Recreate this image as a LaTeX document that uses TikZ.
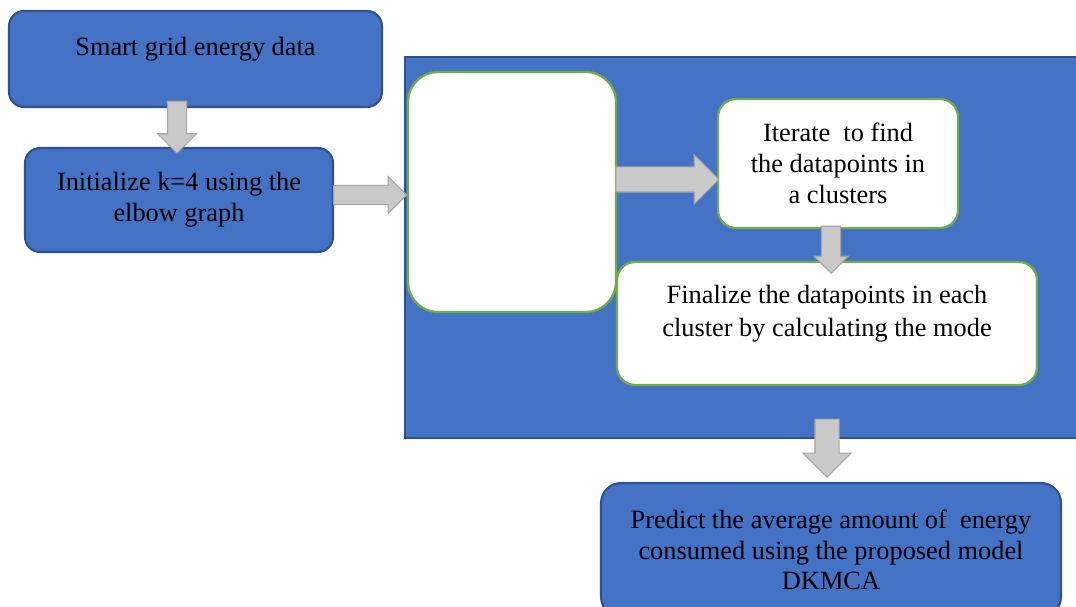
\documentclass[tikz,border=0pt]{standalone}
\usepackage{fontspec}
\setmainfont{Liberation Serif}
\usetikzlibrary{shapes.arrows,calc}
\definecolor{boxblue}{HTML}{4472C4}
\definecolor{boxedge}{HTML}{2F528F}
\definecolor{stepgreen}{HTML}{70AD47}
\definecolor{arrowfill}{HTML}{C9C9C9}
\definecolor{arrowedge}{HTML}{A5A5A5}
\tikzset{
    flowtext/.style={align=center, font=\fontsize{15}{17.5}\selectfont, inner sep=0pt},
    bluebox/.style={flowtext, draw=boxedge, line width=1.2pt, fill=boxblue, rounded corners=0.3cm},
    whitebox/.style={flowtext, draw=stepgreen, line width=1.3pt, fill=white, rounded corners=0.36cm},
    blockarrow/.style={single arrow, draw=arrowedge, fill=arrowfill, line width=0.6pt,
        inner xsep=0pt, text height=0pt, text depth=0pt}
}
\begin{document}
\begin{tikzpicture}[x=0.02cm, y=-0.02cm]
    \useasboundingbox (0, 0) rectangle (1076, 607);
    \clip (0, 0) rectangle (1076, 607);
    % left column
    \node[bluebox, text height=0.37cm, text depth=0.5cm, minimum width=7.46cm, minimum height=1.92cm] (data) at (195.5, 59) {Smart grid energy data};
    \node[bluebox, minimum width=6.16cm, minimum height=2.08cm] (init) at (179, 200) {Initialize k=4 using the\\elbow graph};
    % clustering panel
    \node[draw=boxedge, line width=1.5pt, fill=boxblue, minimum width=13.7cm, minimum height=7.62cm] (panel) at (747.5, 247.5) {};
    \node[whitebox, rounded corners=0.6cm, minimum width=4.16cm, minimum height=4.8cm] (blank) at (512, 192) {};
    \node[whitebox, minimum width=4.8cm, minimum height=2.58cm] (iterate) at (838, 163.5) {Iterate~ to find\\the datapoints in\\a clusters};
    \node[whitebox, minimum width=8.4cm, minimum height=2.46cm,
        label={[flowtext, font=\fontsize{15}{19}\selectfont, yshift=0.2cm]center:{Finalize the datapoints in each\\cluster by calculating the mode}}] (final) at (827, 323.5) {};
    % result
    \node[bluebox, rounded corners=0.4cm, minimum width=9.2cm, minimum height=2.68cm] (predict) at (831, 550) {Predict the average amount of~ energy\\consumed using the proposed model\\DKMCA};
    % block arrows
    \path (data.south -| init.north) -- node[blockarrow, xshift=-0.04cm, yshift=0.1cm, rotate=-90, minimum height=1.04cm, inner ysep=0.18cm, minimum width=0.76cm, single arrow head extend=0.2cm] (a1) {} (init.north);
    \path (init.east) -- node[blockarrow, xshift=-0.07cm, yshift=0.1cm, minimum height=1.46cm, inner ysep=0.18cm, minimum width=0.72cm, single arrow head extend=0.18cm] (a2) {} (init.east -| panel.west);
    \path (blank.east |- iterate.west) -- node[blockarrow, xshift=-0.12cm, yshift=-0.32cm, minimum height=2.06cm, inner ysep=0.24cm, minimum width=0.96cm, single arrow head extend=0.24cm] (a3) {} (iterate.west);
    \path (iterate.south) -- node[blockarrow, xshift=-0.14cm, rotate=-90, minimum height=0.94cm, inner ysep=0.18cm, minimum width=0.66cm, single arrow head extend=0.15cm] (a4) {} (final.north -| iterate.south);
    \path (panel.south -| final.south) -- node[blockarrow, yshift=0.37cm, rotate=-90, minimum height=1.16cm, inner ysep=0.23cm, minimum width=0.94cm, single arrow head extend=0.24cm] (a5) {} (predict.north -| final.south);
\end{tikzpicture}
\end{document}
